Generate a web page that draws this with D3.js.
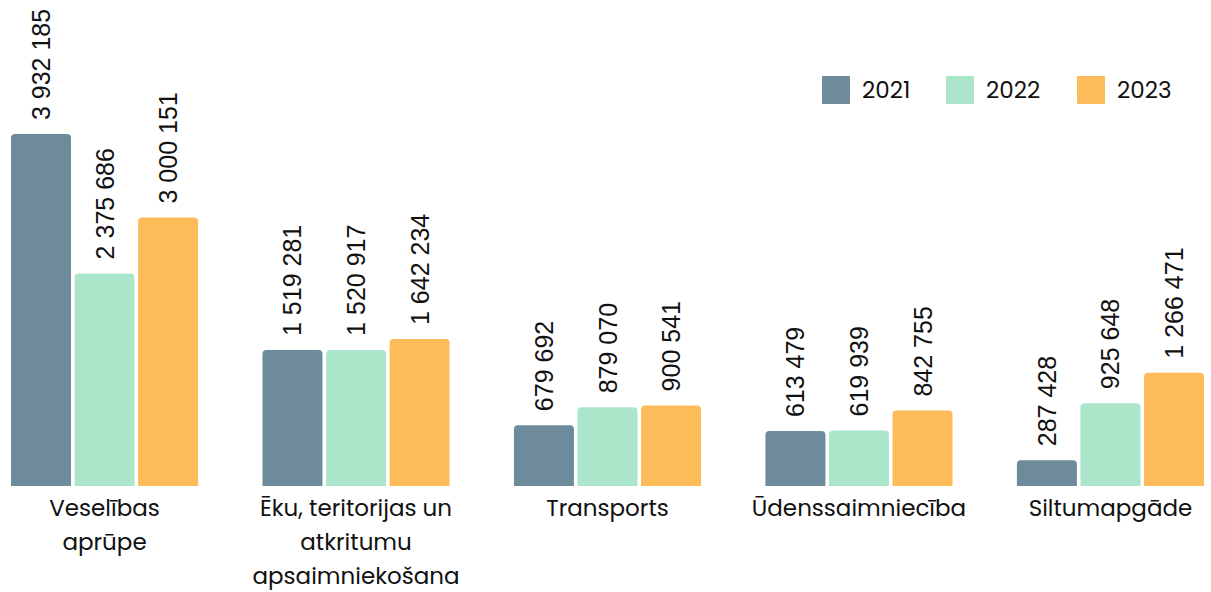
<!DOCTYPE html>
<html>
<head>
<meta charset="utf-8">
<script src="https://cdn.jsdelivr.net/npm/d3@7"></script>
<style>
  body { margin: 0; background: #fff; }
  svg { display: block; }
</style>
</head>
<body>
<script>
// data
var categories = ["Veselības\naprūpe", "Ēku, teritorijas un\natkritumu\napsaimniekošana", "Transports", "Ūdenssaimniecība", "Siltumapgāde"];
var years = ["2021", "2022", "2023"];
var v2021 = [3932185, 1519281, 679692, 613479, 287428];
var v2022 = [2375686, 1520917, 879070, 619939, 925648];
var v2023 = [3000151, 1642234, 900541, 842755, 1266471];
var colors = ["#6e8b9b", "#abe6ca", "#febb59"];

var W = 1211, H = 592;
var series = [v2021, v2022, v2023];

var svg = d3.select("body").append("svg")
  .attr("width", W)
  .attr("height", H);

// scales
var x0 = d3.scaleBand().domain(categories).range([11, 1204]).paddingInner(0.256);
var x1 = d3.scaleBand().domain(years).range([0, x0.bandwidth()]).paddingInner(0.056);
var y = d3.scaleLinear().domain([0, 4000000]).range([486, 128]);
var color = d3.scaleOrdinal().domain(years).range(colors);

var fmt = function(v) { return d3.format(",")(v).replace(/,/g, " "); };

// rounded-top bar
function barPath(x, yt, w, h, r) {
  r = Math.min(r, h);
  return "M" + x + "," + (yt + h) +
    "V" + (yt + r) +
    "Q" + x + "," + yt + " " + (x + r) + "," + yt +
    "H" + (x + w - r) +
    "Q" + (x + w) + "," + yt + " " + (x + w) + "," + (yt + r) +
    "V" + (yt + h) + "Z";
}

var rows = [];
categories.forEach(function(c, i) {
  years.forEach(function(yr, j) {
    rows.push({cat: c, year: yr, value: series[j][i]});
  });
});

var g = svg.append("g");

g.selectAll("path.bar")
  .data(rows)
  .enter()
  .append("path")
  .attr("class", "bar")
  .attr("fill", function(d) { return color(d.year); })
  .attr("d", function(d) {
    var bx = x0(d.cat) + x1(d.year);
    return barPath(bx, y(d.value), x1.bandwidth(), y(0) - y(d.value), 4);
  });

// value labels, rotated
g.selectAll("text.val")
  .data(rows)
  .enter()
  .append("text")
  .attr("class", "val")
  .attr("transform", function(d) {
    var cx = x0(d.cat) + x1(d.year) + x1.bandwidth() / 2;
    return "translate(" + cx + "," + (y(d.value) - 14) + ") rotate(-90)";
  })
  .attr("dy", "0.36em")
  .style("font-family", "'Liberation Sans', Arial, sans-serif")
  .style("font-size", "25px")
  .style("fill", "#111")
  .text(function(d) { return fmt(d.value); });

// category labels
var labs = g.selectAll("text.cat")
  .data(categories)
  .enter()
  .append("text")
  .attr("class", "cat")
  .attr("x", function(d) { return x0(d) + x0.bandwidth() / 2; })
  .attr("y", 516)
  .attr("text-anchor", "middle")
  .style("font-family", "Poppins, Inter, 'Noto Sans', sans-serif")
  .style("font-size", "23px")
  .style("fill", "#111");

labs.each(function(d) {
  var t = d3.select(this);
  var cx = t.attr("x");
  d.split("\n").forEach(function(line, k) {
    t.append("tspan")
      .attr("x", cx)
      .attr("dy", k === 0 ? 0 : 34)
      .text(line);
  });
});

// legend
var legX = [822, 946, 1077];
var leg = svg.append("g")
  .selectAll("g")
  .data(years)
  .enter()
  .append("g")
  .attr("transform", function(d, i) { return "translate(" + legX[i] + ",76)"; });

leg.append("rect")
  .attr("width", 28)
  .attr("height", 28)
  .attr("rx", 1)
  .attr("fill", function(d) { return color(d); });

leg.append("text")
  .attr("x", 40)
  .attr("y", 14)
  .attr("dy", "0.36em")
  .style("font-family", "Poppins, Inter, 'Noto Sans', sans-serif")
  .style("font-size", "23px")
  .style("fill", "#111")
  .text(function(d) { return d; });
</script>
</body>
</html>
